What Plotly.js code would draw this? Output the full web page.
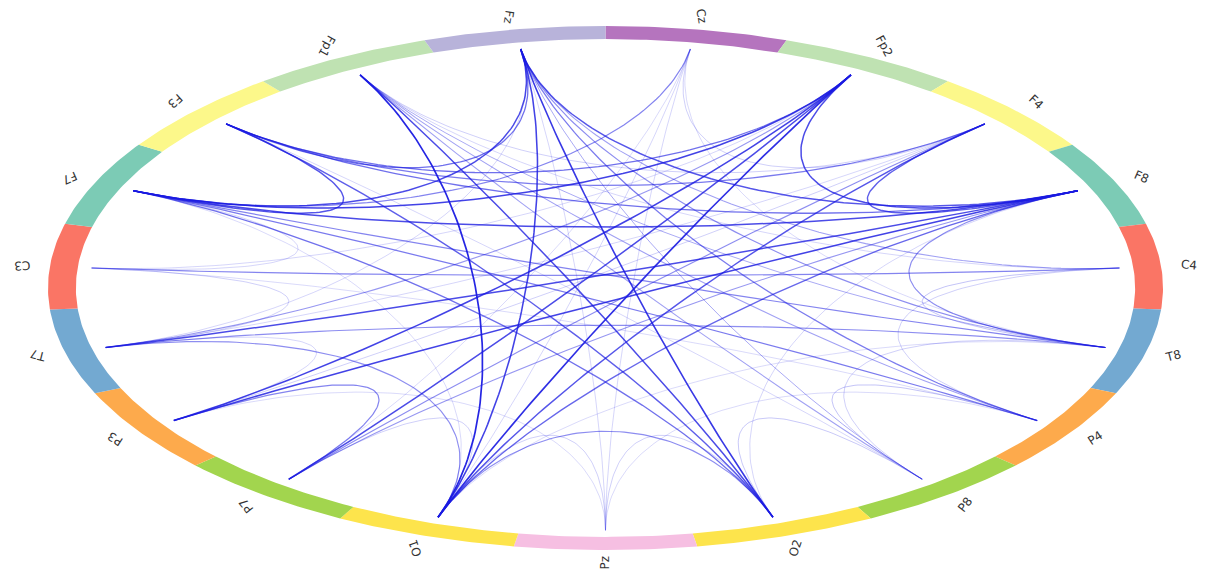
<!DOCTYPE html>
<html><head><meta charset="utf-8">
<script src="https://cdn.plot.ly/plotly-3.0.1.min.js"></script>
<style>html,body{margin:0;padding:0;background:#fff}#chart{width:1208px;height:571px}</style>
</head><body><div id="chart"></div>
<script>
// Channels in clockwise order starting just right of the top
const channels = ["Cz","Fp2","F4","F8","C4","T8","P4","P8","O2","Pz","O1","P7","P3","T7","C3","F7","F3","Fp1","Fz"];
const ringColors = ["#b574be","#bfe2b2","#fcf88a","#7ccbb5","#fa7565","#73a9d1","#fdaa4c","#a2d54e","#fde44c","#f6bfe2",
                    "#fde44c","#a2d54e","#fdaa4c","#73a9d1","#fa7565","#7ccbb5","#fcf88a","#bfe2b2","#b8b3da"];
// Connections (strength 0..1)
const chordFrom = ["Fp1","Fp2","Fz","Fz","Fp2","F8","F8","F7","F7","Fz","Fz","Fp2","F4","F3","Fp1","Fp2","F7","F7","Fz","Fz","F3","F3","O1","O1","O2","O2","Fp1","Fz","Fz","Fp2",
                   "C3","T7","Cz","P3","T7","O1","F8","P7","P7","Fp2","Fp1","Fz","Fp1",
                   "Pz","Pz","Pz","Pz","Pz","Cz","Cz","Cz","P4","P8","C4","C4","C3","C3","T7","P7","P8","Fp1","Fp1","Fp2","F3","F4","Fz","C3","T8","F7","F8","Cz","Cz","F4"];
const chordTo   = ["O1","O1","O2","O1","P3","P3","T7","Fp2","F8","F7","F8","F8","F8","F7","O2","P7","P4","T8","P4","T8","F8","F4","F4","F8","F3","F7","P8","F3","P8","F3",
                   "C4","T8","F7","P7","O1","O2","T8","F4","F8","T7","P4","C4","T8",
                   "O1","O2","Fz","P3","P4","O1","Pz","F4","P8","T8","T8","P4","T7","F7","P3","O1","O2","F4","C4","C3","P8","P3","T7","P4","O1","O1","O2","T8","P7","T7"];
const chordStrength = [1.0,0.95,0.9,0.85,0.85,0.85,0.8,0.85,0.8,0.8,0.75,0.8,0.7,0.75,0.8,0.8,0.55,0.5,0.55,0.45,0.6,0.55,0.75,0.65,0.7,0.6,0.35,0.6,0.3,0.6,
                       0.5,0.45,0.5,0.5,0.45,0.45,0.45,0.45,0.4,0.4,0.35,0.35,0.3,
                       0.15,0.15,0.12,0.1,0.1,0.12,0.12,0.15,0.2,0.15,0.2,0.15,0.15,0.12,0.12,0.15,0.18,0.15,0.12,0.12,0.12,0.15,0.12,0.1,0.1,0.1,0.12,0.1,0.1,0.12];

const N = channels.length;
const step = 360 / N;
const deg = Math.PI / 180;
const R_OUT = 1.0, R_IN = 0.95, R_NODE = 0.925, R_LABEL = 1.05;
function nodeAngle(i) { return 90 - step * (i + 0.5); }

const traces = [];
// chords (faint first)
const order = chordStrength.map((s, i) => i).sort((a, b) => chordStrength[a] - chordStrength[b]);
order.forEach(k => {
  const a = nodeAngle(channels.indexOf(chordFrom[k])) * deg;
  const b = nodeAngle(channels.indexOf(chordTo[k])) * deg;
  const p0 = [R_NODE * Math.cos(a), R_NODE * Math.sin(a)];
  const p1 = [0.5 * p0[0], 0.5 * p0[1]];
  const p3 = [R_NODE * Math.cos(b), R_NODE * Math.sin(b)];
  const p2 = [0.5 * p3[0], 0.5 * p3[1]];
  const xs = [], ys = [];
  for (let j = 0; j <= 80; j++) {
    const t = j / 80, u = 1 - t;
    const c0 = u*u*u, c1 = 3*u*u*t, c2 = 3*u*t*t, c3 = t*t*t;
    xs.push(c0*p0[0] + c1*p1[0] + c2*p2[0] + c3*p3[0]);
    ys.push(c0*p0[1] + c1*p1[1] + c2*p2[1] + c3*p3[1]);
  }
  const s = chordStrength[k];
  traces.push({
    type: "scatter", mode: "lines", x: xs, y: ys, hoverinfo: "skip", showlegend: false,
    line: { color: "rgba(25,25,225," + (0.12 + 0.83 * s).toFixed(3) + ")", width: 0.7 + 1.0 * s }
  });
});
// ring segments
channels.forEach((ch, i) => {
  const a0 = 90 - step * i, a1 = 90 - step * (i + 1);
  const xs = [], ys = [];
  for (let j = 0; j <= 30; j++) { const t = (a0 + (a1 - a0) * j / 30) * deg; xs.push(R_OUT * Math.cos(t)); ys.push(R_OUT * Math.sin(t)); }
  for (let j = 30; j >= 0; j--) { const t = (a0 + (a1 - a0) * j / 30) * deg; xs.push(R_IN * Math.cos(t)); ys.push(R_IN * Math.sin(t)); }
  traces.push({ type: "scatter", mode: "lines", x: xs, y: ys, fill: "toself", fillcolor: ringColors[i],
    line: { width: 0, color: ringColors[i] }, hoverinfo: "text", text: ch, showlegend: false });
});
// labels
const annotations = channels.map((ch, i) => {
  const a = nodeAngle(i);
  return { x: R_LABEL * Math.cos(a * deg), y: R_LABEL * Math.sin(a * deg), text: ch, showarrow: false,
    textangle: a, xanchor: "center", yanchor: "middle",
    font: { family: "DejaVu Sans, sans-serif", size: 12, color: "#333" } };
});

Plotly.newPlot("chart", traces, {
  width: 1208, height: 571, margin: { l: 0, r: 0, t: 0, b: 0 },
  paper_bgcolor: "#fff", plot_bgcolor: "#fff",
  xaxis: { range: [-1.0861, 1.0807], visible: false, fixedrange: true },
  yaxis: { range: [-1.0802, 1.0992], visible: false, fixedrange: true },
  annotations: annotations, showlegend: false
}, { displayModeBar: false, staticPlot: true });
</script></body></html>
